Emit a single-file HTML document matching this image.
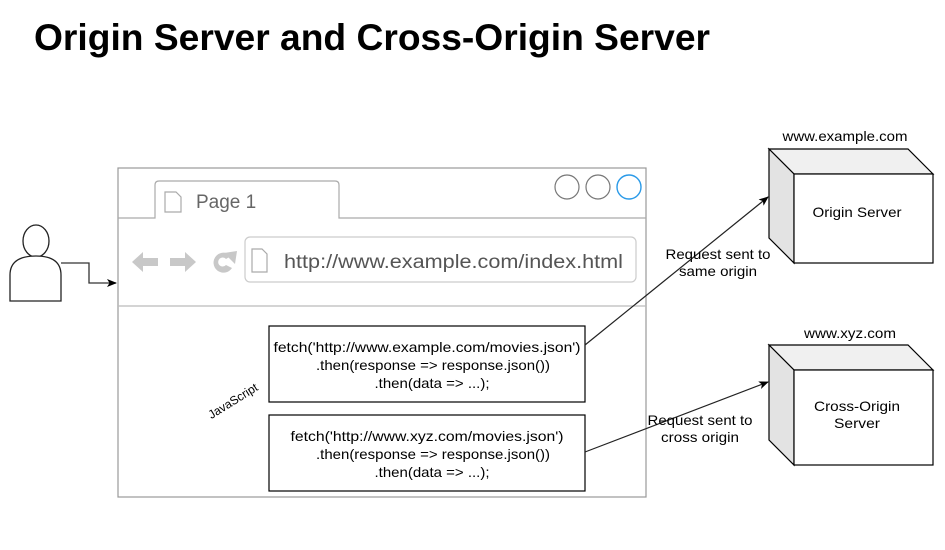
<!DOCTYPE html>
<html><head><meta charset="utf-8"><style>
html,body{margin:0;padding:0;background:#fff;}
svg{display:block;font-family:"Liberation Sans",Arial,sans-serif;}
</style></head><body>
<svg width="945" height="550" viewBox="0 0 945 550" xmlns="http://www.w3.org/2000/svg">
<defs>
<marker id="ah" markerWidth="10" markerHeight="8" refX="9" refY="4" orient="auto" markerUnits="userSpaceOnUse">
<path d="M0,0 L10,4 L0,8 L2.5,4 z" fill="#000"/>
</marker>
</defs>
<text x="34" y="50" font-size="37" font-weight="bold" textLength="676" lengthAdjust="spacingAndGlyphs">Origin Server and Cross-Origin Server</text>

<!-- person -->
<ellipse cx="36" cy="241" rx="13" ry="16" fill="#fff" stroke="#222" stroke-width="1.3"/>
<path d="M10,301 L10,275 Q10,256 36,256 Q61,256 61,275 L61,301 Z" fill="#fff" stroke="#222" stroke-width="1.3"/>
<path d="M61,263 L89,263 L89,283 L116,283" fill="none" stroke="#333" stroke-width="1.3" marker-end="url(#ah)"/>

<!-- browser -->
<rect x="118" y="168" width="528" height="329" fill="#fff" stroke="#999" stroke-width="1.2"/>
<path d="M118,218 L155,218 L155,185 Q155,181 159,181 L335,181 Q339,181 339,185 L339,218 L646,218" fill="none" stroke="#aaa" stroke-width="1.2"/>
<line x1="118" y1="306" x2="646" y2="306" stroke="#bbb" stroke-width="1.2"/>
<path d="M165,192 L176,192 L181,197 L181,212 L165,212 Z" fill="#fff" stroke="#aaa" stroke-width="1.2"/>
<text x="196" y="208" font-size="19" fill="#666">Page 1</text>
<circle cx="567" cy="187" r="12" fill="#fff" stroke="#777" stroke-width="1.2"/>
<circle cx="598" cy="187" r="12" fill="#fff" stroke="#777" stroke-width="1.2"/>
<circle cx="629" cy="187" r="12" fill="#fff" stroke="#2a9ae8" stroke-width="1.4"/>
<!-- nav icons -->
<path d="M132,262 L143,252 L143,258 L158,258 L158,266 L143,266 L143,272 Z" fill="#c8c8c8"/>
<path d="M196,262 L185,252 L185,258 L170,258 L170,266 L185,266 L185,272 Z" fill="#c8c8c8"/>
<path d="M231,256 A10,10 0 1 0 232,268 L226,265 A4.5,4.5 0 1 1 226,259 Z" fill="#c8c8c8"/>
<path d="M224,253 L237,251 L235,264 Z" fill="#c8c8c8"/>
<rect x="245" y="237" width="391" height="45" rx="5" fill="#fff" stroke="#ccc" stroke-width="1.2"/>
<path d="M252,249 L262,249 L267,254 L267,272 L252,272 Z" fill="#fff" stroke="#aaa" stroke-width="1.2"/>
<text x="284" y="268" font-size="19" fill="#555" textLength="339" lengthAdjust="spacingAndGlyphs">http://www.example.com/index.html</text>

<!-- code boxes -->
<rect x="269" y="326" width="316" height="76" fill="#fff" stroke="#000" stroke-width="1.2"/>
<g font-size="14" text-anchor="middle" lengthAdjust="spacingAndGlyphs">
<text x="427" y="352" textLength="307" lengthAdjust="spacingAndGlyphs">fetch('http://www.example.com/movies.json')</text>
<text x="433" y="370" textLength="234" lengthAdjust="spacingAndGlyphs">.then(response =&gt; response.json())</text>
<text x="432" y="388" textLength="115" lengthAdjust="spacingAndGlyphs">.then(data =&gt; ...);</text>
</g>
<rect x="269" y="415" width="316" height="76" fill="#fff" stroke="#000" stroke-width="1.2"/>
<g font-size="14" text-anchor="middle">
<text x="427" y="441" textLength="273" lengthAdjust="spacingAndGlyphs">fetch('http://www.xyz.com/movies.json')</text>
<text x="433" y="459" textLength="234" lengthAdjust="spacingAndGlyphs">.then(response =&gt; response.json())</text>
<text x="432" y="477" textLength="115" lengthAdjust="spacingAndGlyphs">.then(data =&gt; ...);</text>
</g>
<text x="233" y="405" font-size="12" text-anchor="middle" transform="rotate(-32 233 401)">JavaScript</text>

<!-- arrows -->
<line x1="585" y1="345" x2="768" y2="197" stroke="#222" stroke-width="1.2" marker-end="url(#ah)"/>
<line x1="585" y1="452" x2="768" y2="382" stroke="#222" stroke-width="1.2" marker-end="url(#ah)"/>
<g font-size="14" text-anchor="middle">
<text x="718" y="259" textLength="105" lengthAdjust="spacingAndGlyphs">Request sent to</text>
<text x="718" y="276" textLength="78" lengthAdjust="spacingAndGlyphs">same origin</text>
<text x="700" y="425" textLength="105" lengthAdjust="spacingAndGlyphs">Request sent to</text>
<text x="700" y="442" textLength="78" lengthAdjust="spacingAndGlyphs">cross origin</text>
</g>

<!-- servers -->
<g stroke="#000" stroke-width="1.2">
<path d="M769,149 L908,149 L933,174 L794,174 Z" fill="#f0f0f0"/>
<path d="M769,149 L794,174 L794,263 L769,238 Z" fill="#e3e3e3"/>
<rect x="794" y="174" width="139" height="89" fill="#fff"/>
<path d="M769,345 L908,345 L933,370 L794,370 Z" fill="#f0f0f0"/>
<path d="M769,345 L794,370 L794,465 L769,440 Z" fill="#e3e3e3"/>
<rect x="794" y="370" width="139" height="95" fill="#fff"/>
</g>
<g font-size="14" text-anchor="middle">
<text x="845" y="141" textLength="125" lengthAdjust="spacingAndGlyphs">www.example.com</text>
<text x="857" y="217" textLength="89" lengthAdjust="spacingAndGlyphs">Origin Server</text>
<text x="850" y="338" textLength="92" lengthAdjust="spacingAndGlyphs">www.xyz.com</text>
<text x="857" y="411" textLength="86" lengthAdjust="spacingAndGlyphs">Cross-Origin</text>
<text x="857" y="428" textLength="46" lengthAdjust="spacingAndGlyphs">Server</text>
</g>
</svg>
</body></html>
